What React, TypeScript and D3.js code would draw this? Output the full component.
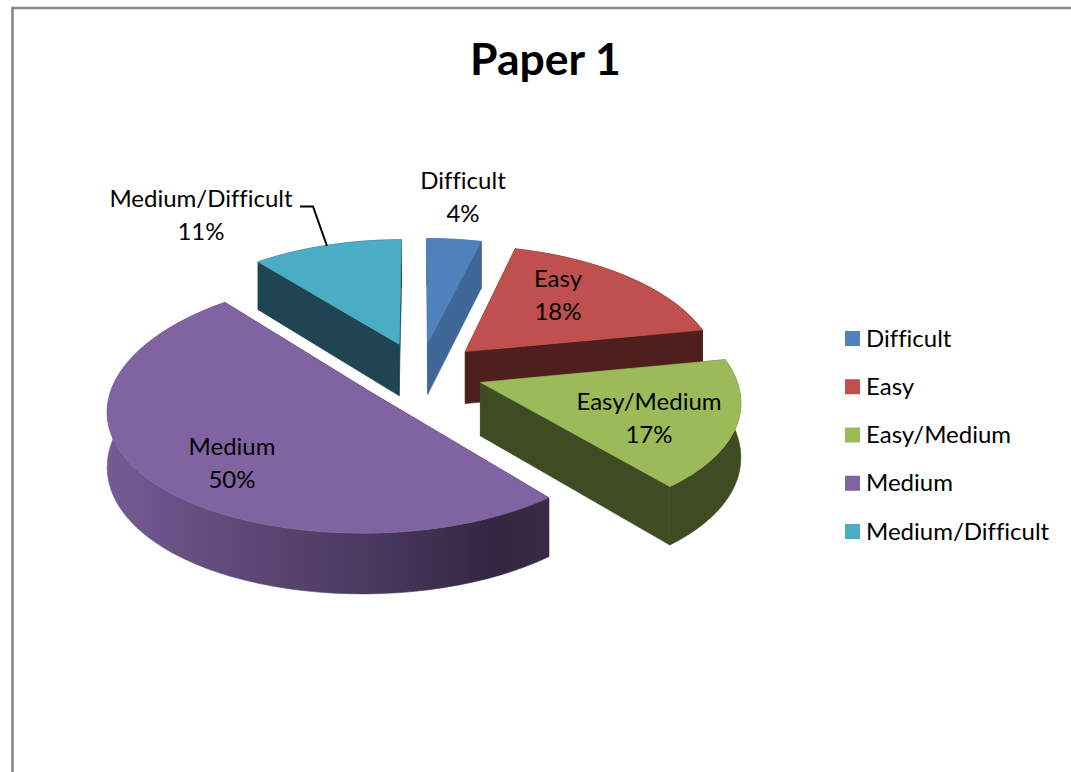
import { useEffect, useRef } from "react"
import * as d3 from "d3"

const categories = ["Difficult", "Easy", "Easy/Medium", "Medium", "Medium/Difficult"]
const values = [4, 18, 17, 50, 11]
const topColors = ["#4F81BD", "#C0504D", "#9BBB59", "#8064A2", "#4BACC6"]
const sideColors = ["#3F6797", "#4F1F1E", "#3F4B23", "#3A2B47", "#1F4553"]
const drawOrder = [0, 4, 1, 3, 2]

const WIDTH = 1071
const HEIGHT = 772
const FONT = "Lato, Carlito, Calibri, sans-serif"

// 3d pie settings
const CX = 420
const CY = 372
const RX = 254
const RY = 121.5
const PERSP_X = 0.132
const PERSP_Y = 0.109
const DEPTH = 53
const EXPLODE = 0.25

function project(u: number, v: number, z: number) {
    const sx = 1 / (1 - PERSP_X * v)
    const sy = 1 / (1 - PERSP_Y * v)
    return [CX + u * RX * sx, CY + v * RY * sy + z * DEPTH * sy] as [number, number]
}

export default function App() {
    const svgRef = useRef<SVGSVGElement>(null)

    useEffect(() => {
        const svg = d3.select(svgRef.current)
        svg.selectAll("*").remove()

        const grad = svg.append("defs").append("linearGradient")
            .attr("id", "wallMedium")
            .attr("gradientUnits", "userSpaceOnUse")
            .attr("x1", 108).attr("x2", 552).attr("y1", 0).attr("y2", 0)
        const stops: [number, string][] = [
            [0, "#745B94"], [0.3, "#5F4876"], [0.6, "#4A3860"], [0.88, "#332640"], [1, "#3A2B47"]
        ]
        stops.forEach(([o, c]) => grad.append("stop").attr("offset", o).attr("stop-color", c))

        // chart border
        svg.append("path")
            .attr("d", `M12.5,${HEIGHT} V8 H${WIDTH}`)
            .attr("fill", "none")
            .attr("stroke", "#868686")
            .attr("stroke-width", 2.6)

        svg.append("text")
            .text("Paper 1")
            .attr("x", 545.5).attr("y", 75)
            .attr("text-anchor", "middle")
            .attr("font-family", FONT)
            .attr("font-weight", "bold")
            .attr("font-size", 44.5)
            .attr("fill", "#000")

        const arcs = d3.pie<number>().sort(null).value((d) => d)(values)
        const line = d3.line()

        drawOrder.forEach((i) => {
            const a = arcs[i]
            const mid = (a.startAngle + a.endAngle) / 2
            const ou = EXPLODE * Math.sin(mid)
            const ov = -EXPLODE * Math.cos(mid)
            const rim = d3.range(0, 61).map((k) => {
                const t = a.startAngle + (a.endAngle - a.startAngle) * k / 60
                return [ou + Math.sin(t), ov - Math.cos(t)]
            })
            const at = (z: number) => rim.map(([u, v]) => project(u, v, z))
            const apex0 = project(ou, ov, 0)
            const apex1 = project(ou, ov, 1)
            const top = at(0)
            const bottom = at(1)
            const wallFill = categories[i] === "Medium" ? "url(#wallMedium)" : sideColors[i]
            const g = svg.append("g")

            g.append("path")
                .attr("d", line([apex0, top[0], bottom[0], apex1]) + "Z")
                .attr("fill", sideColors[i])
                .attr("stroke", sideColors[i])
                .attr("stroke-width", 0.6)
            g.append("path")
                .attr("d", line([apex0, top[60], bottom[60], apex1]) + "Z")
                .attr("fill", sideColors[i])
                .attr("stroke", sideColors[i])
                .attr("stroke-width", 0.6)
            g.append("path")
                .attr("d", line([...top, ...bottom.slice().reverse()]) + "Z")
                .attr("fill", wallFill)
                .attr("stroke", wallFill)
                .attr("stroke-width", 0.6)
            g.append("path")
                .attr("d", line([apex0, ...top]) + "Z")
                .attr("fill", topColors[i])
                .attr("stroke", topColors[i])
                .attr("stroke-width", 0.6)
        })

        // data labels
        const labelPos: [number, number][] = [[463, 189], [558, 287], [649, 410], [232, 455], [201, 207]]
        categories.forEach((c, i) => {
            const t = svg.append("text")
                .attr("text-anchor", "middle")
                .attr("font-family", FONT)
                .attr("font-size", 24)
                .style("font-variant-ligatures", "none")
                .attr("fill", "#000")
            t.append("tspan").attr("x", labelPos[i][0]).attr("y", labelPos[i][1]).text(c)
            t.append("tspan").attr("x", labelPos[i][0]).attr("y", labelPos[i][1] + 33).text(values[i] + "%")
        })

        // leader line for Medium/Difficult
        svg.append("path")
            .attr("d", "M300,206.5 H313 L327,246")
            .attr("fill", "none")
            .attr("stroke", "#000")
            .attr("stroke-width", 2)

        // legend
        const legendY = d3.scalePoint<string>().domain(categories).range([338.5, 531.5])
        const legend = svg.append("g")
            .selectAll("g")
            .data(categories)
            .join("g")
            .attr("transform", (d) => `translate(845,${legendY(d)})`)
        legend.append("rect")
            .attr("x", 0).attr("y", -7.5)
            .attr("width", 15).attr("height", 15)
            .attr("fill", (d, i) => topColors[i])
        legend.append("text")
            .text((d) => d)
            .attr("x", 21).attr("y", 8)
            .attr("font-family", FONT)
            .attr("font-size", 24)
            .style("font-variant-ligatures", "none")
            .attr("fill", "#000")
    }, [])

    return (
        <svg
            ref={svgRef}
            width={WIDTH}
            height={HEIGHT}
            style={{ position: "absolute", left: 0, top: 0, display: "block", background: "#fff" }}
        />
    )
}
